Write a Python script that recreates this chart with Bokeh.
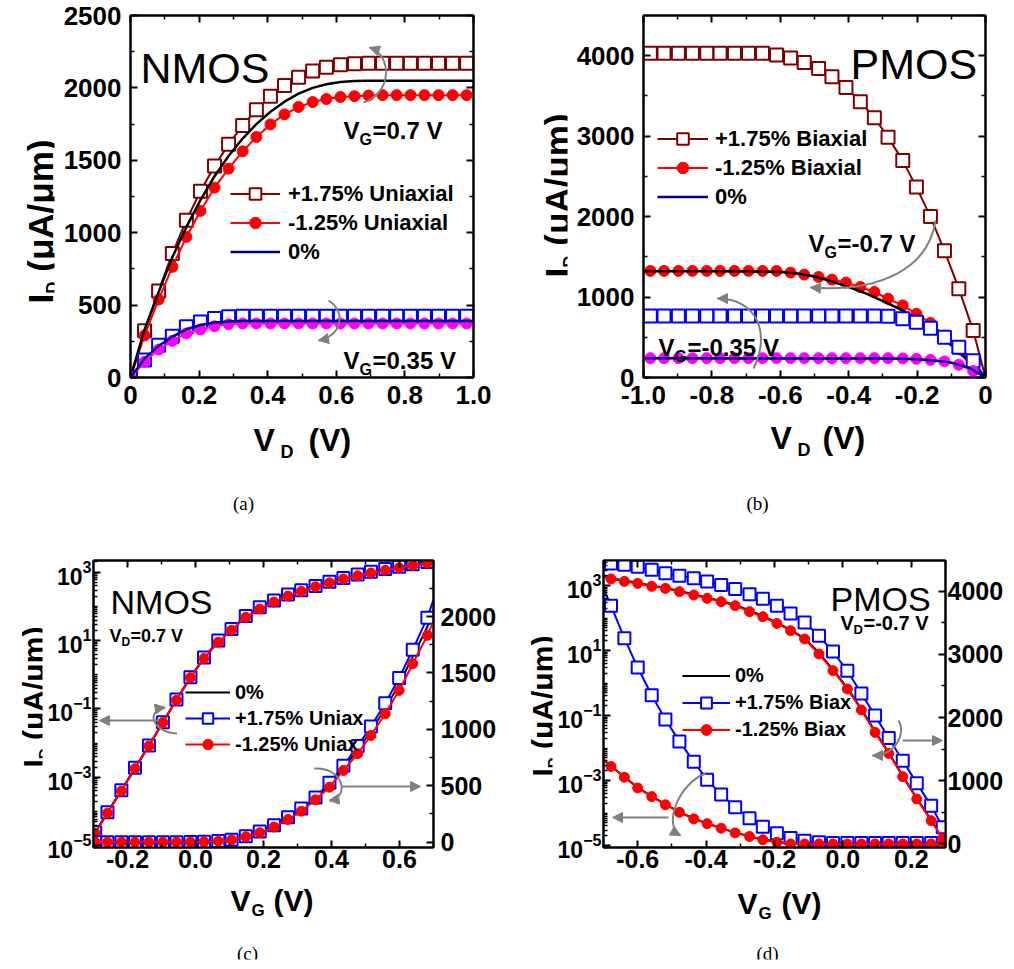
import math
from bokeh.plotting import figure
from bokeh.models import (Range1d, LinearAxis, LinearScale, FixedTicker, LogTickFormatter, Label,
                          Legend, LegendItem, Arrow, NormalHead)
from bokeh.layouts import row, column
from bokeh.embed import file_html
from bokeh.resources import INLINE

# ======================= DATA =======================
# (a) NMOS output characteristics, I_D (uA/um) vs V_D (V); last point = frame edge (line only)
a_vd = [0, 0.041, 0.082, 0.122, 0.163, 0.204, 0.245, 0.286, 0.327, 0.367, 0.408, 0.449, 0.490,
        0.531, 0.571, 0.612, 0.653, 0.694, 0.735, 0.776, 0.816, 0.857, 0.898, 0.939, 0.980, 1.0]
a_vg07_p175 = [0, 322, 598, 856, 1086, 1286, 1460, 1610, 1741, 1849, 1943, 2017, 2074, 2116, 2143,
               2160, 2166, 2170, 2170, 2170, 2170, 2170, 2170, 2170, 2170, 2170]
a_vg07_m125 = [0, 290, 538, 764, 971, 1150, 1311, 1442, 1562, 1661, 1748, 1817, 1868, 1902, 1923,
               1937, 1943, 1947, 1950, 1950, 1950, 1950, 1950, 1950, 1950, 1950]
a_vg07_0 = [0, 330, 590, 830, 1040, 1225, 1390, 1530, 1650, 1750, 1835, 1905, 1960, 2000, 2025,
            2040, 2047, 2050, 2050, 2050, 2050, 2050, 2050, 2050, 2050, 2050]
a_vg035_p175 = [0, 120, 223, 285, 350, 384, 407, 419, 423, 423, 423, 423, 423, 423, 423, 423, 423,
                423, 423, 423, 423, 423, 423, 423, 423, 423]
a_vg035_m125 = [0, 108, 193, 253, 304, 331, 354, 368, 373, 373, 373, 373, 373, 373, 373, 373, 373,
                373, 373, 373, 373, 373, 373, 373, 373, 373]
a_vg035_0 = [0, 130, 218, 283, 333, 363, 380, 387, 390, 390, 390, 390, 390, 390, 390, 390, 390,
             390, 390, 390, 390, 390, 390, 390, 390, 390]

# (b) PMOS output characteristics; first point = frame edge, last = origin (line only)
b_vd = [-1.0, -0.98, -0.94, -0.898, -0.857, -0.815, -0.776, -0.734, -0.693, -0.652, -0.611, -0.570,
        -0.530, -0.488, -0.449, -0.408, -0.366, -0.325, -0.285, -0.242, -0.202, -0.161, -0.120,
        -0.078, -0.036, 0.0]
b_vg07_p175 = [4030, 4030, 4030, 4030, 4030, 4030, 4030, 4030, 4030, 4030, 4010, 3971, 3917, 3842,
               3738, 3604, 3429, 3229, 2988, 2696, 2367, 2000, 1575, 1104, 583, 0]
b_vg07_m125 = [1325, 1325, 1325, 1325, 1325, 1325, 1325, 1325, 1325, 1325, 1325, 1304, 1279, 1250,
               1217, 1179, 1125, 1063, 979, 896, 792, 679, 520, 350, 165, 0]
b_vg035_p175 = [765, 765, 765, 765, 765, 765, 765, 765, 765, 765, 765, 765, 765, 765, 765, 765, 765,
                765, 762, 729, 688, 613, 500, 375, 208, 0]
b_vg035_m125 = [240, 240, 240, 240, 240, 240, 240, 240, 240, 240, 240, 240, 240, 240, 240, 240, 240,
                240, 240, 237, 232, 220, 200, 158, 80, 0]
b_vd0_hi = [-1.0, -0.9, -0.8, -0.7, -0.6, -0.55, -0.5, -0.45, -0.4, -0.35, -0.3, -0.25, -0.2, -0.15,
            -0.1, -0.05, 0.0]
b_vg07_0 = [1320, 1320, 1320, 1318, 1310, 1292, 1255, 1195, 1125, 1045, 950, 850, 725, 575, 400, 205, 0]
b_vd0_lo = [-1.0, -0.3, -0.25, -0.2, -0.15, -0.1, -0.05, 0.0]
b_vg035_0 = [238, 237, 234, 226, 212, 185, 125, 0]

# (c) NMOS transfer, V_D = 0.7 V; last point = frame edge (line only)
c_vg = [-0.295, -0.259, -0.218, -0.178, -0.137, -0.096, -0.056, -0.015, 0.025, 0.067, 0.106, 0.148,
        0.189, 0.231, 0.272, 0.311, 0.353, 0.394, 0.435, 0.477, 0.516, 0.558, 0.599, 0.639, 0.682, 0.7]
c_p175 = [2.5e-5, 9.5e-5, 4.2e-4, 1.9e-3, 8.5e-3, 4.1e-2, 0.19, 0.85, 3.2, 10, 22, 52, 95, 150, 222,
          298, 396, 527, 678, 852, 1025, 1232, 1455, 1706, 1990, 2150]
c_m125 = [2.3e-5, 9.0e-5, 4.0e-4, 1.8e-3, 8.2e-3, 4.0e-2, 0.18, 0.82, 3.0, 9, 20, 48, 84, 134, 201,
          275, 376, 488, 636, 784, 946, 1138, 1345, 1582, 1833, 1965]
c_0 = [2.4e-5, 9.2e-5, 4.1e-4, 1.85e-3, 8.4e-3, 4.05e-2, 0.185, 0.83, 3.1, 9.5, 21, 50, 90, 142, 211,
       286, 386, 507, 657, 818, 985, 1185, 1400, 1645, 1910, 2060]

# (d) PMOS transfer, V_D = -0.7 V; first and last points = frame edges (line only)
d_vg = [-0.7, -0.678, -0.639, -0.600, -0.559, -0.519, -0.478, -0.436, -0.397, -0.356, -0.315, -0.273,
        -0.234, -0.193, -0.153, -0.112, -0.070, -0.029, 0.013, 0.054, 0.094, 0.134, 0.175, 0.216,
        0.258, 0.292, 0.3]
d_log_p175 = [800, 240, 24, 3.0, 0.42, 0.076, 0.016, 3.8e-3, 1.05e-3, 3.7e-4, 1.5e-4, 6.9e-5, 3.8e-5,
              2.4e-5, 1.7e-5, 1.4e-5, 1.26e-5, 1.2e-5, 1.2e-5, 1.2e-5, 1.2e-5, 1.2e-5, 1.2e-5, 1.2e-5,
              1.2e-5, 1.2e-5, 1.2e-5]
d_log_m125 = [4.2e-3, 2.7e-3, 1.26e-3, 5.9e-4, 3.2e-4, 1.8e-4, 1.05e-4, 6.6e-5, 4.7e-5, 3.4e-5,
              2.45e-5, 1.9e-5, 1.5e-5, 1.26e-5, 1.12e-5, 1.12e-5, 1.12e-5, 1.12e-5, 1.12e-5, 1.12e-5,
              1.12e-5, 1.12e-5, 1.12e-5, 1.12e-5, 1.12e-5, 1.12e-5, 1.12e-5]
d_log_0 = [4.4e-3, 2.8e-3, 1.3e-3, 6.1e-4, 3.3e-4, 1.85e-4, 1.08e-4, 6.8e-5, 4.8e-5, 3.5e-5, 2.5e-5,
           1.95e-5, 1.55e-5, 1.3e-5, 1.15e-5, 1.15e-5, 1.15e-5, 1.15e-5, 1.15e-5, 1.15e-5, 1.15e-5,
           1.15e-5, 1.15e-5, 1.15e-5, 1.15e-5, 1.15e-5, 1.15e-5]
d_lin_p175 = [4480, 4440, 4420, 4390, 4340, 4285, 4245, 4205, 4155, 4100, 4035, 3955, 3880, 3770, 3650,
              3505, 3295, 3045, 2740, 2380, 2030, 1675, 1315, 960, 600, 260, 170]
d_lin_m125 = [4220, 4195, 4157, 4125, 4078, 4046, 3994, 3941, 3888, 3835, 3772, 3677, 3597, 3491, 3376,
              3244, 3006, 2742, 2452, 2119, 1764, 1431, 1062, 708, 365, 80, 20]
d_lin_0 = [4230, 4205, 4170, 4135, 4090, 4055, 4005, 3955, 3900, 3845, 3785, 3695, 3610, 3505, 3390,
           3255, 3025, 2760, 2470, 2135, 1780, 1445, 1075, 720, 378, 90, 25]

# tick labels
a_xticks = [0, 0.2, 0.4, 0.6, 0.8, 1.0]
a_xlabels = ["0", "0.2", "0.4", "0.6", "0.8", "1.0"]
b_xticks = [-1.0, -0.8, -0.6, -0.4, -0.2, 0]
b_xlabels = ["-1.0", "-0.8", "-0.6", "-0.4", "-0.2", "0"]
c_xticks = [-0.2, 0, 0.2, 0.4, 0.6]
c_xlabels = ["-0.2", "0.0", "0.2", "0.4", "0.6"]
d_xticks = [-0.6, -0.4, -0.2, 0, 0.2]
d_xlabels = ["-0.6", "-0.4", "-0.2", "0.0", "0.2"]

# ======================= STYLE / LAYOUT =======================
FONT = "Liberation Sans"
GRAY = "#808080"
MAROON, RED, BLUE, MAGENTA, NAVY = "#800000", "#FF0000", "#0000FF", "#FF00FF", "#000080"

# plot frames in page pixels: (left, right, top, bottom)
FA = (130, 473, 15, 377)
FB_ = (643, 985, 15, 377)
FC = (91, 433, 560, 847)
FD = (603, 945, 560, 847)

A_XR, A_YR = (0, 1.0), (0, 2500)
B_XR, B_YR = (-1.0, 0), (0, 4500)
C_XR, C_YL, C_YR = (-0.3, 0.7), (8.9e-6, 2.2e3), (-47, 2497)
D_XR, D_YL, D_YR = (-0.7, 0.3), (8.7e-6, 5.9e3), (-60, 4488)
TB = 2  # inner border of the text-only figures


def no_align(p):
    try:
        p.frame_align = False
    except Exception:
        pass


def make_fig(ox, oy, W, H, fr, xr, yr, ylog=False):
    FL, FR, FT, FBm = fr
    p = figure(width=W, height=H, x_range=Range1d(*xr), y_range=Range1d(*yr),
               y_axis_type="log" if ylog else "linear", toolbar_location=None,
               output_backend="svg",
               min_border_left=FL - ox, min_border_right=ox + W - FR,
               min_border_top=FT - oy, min_border_bottom=oy + H - FBm)
    no_align(p)
    p.xgrid.visible = False
    p.ygrid.visible = False
    p.outline_line_color = "black"
    p.outline_line_width = 2
    p.background_fill_color = "white"
    p.border_fill_color = "white"
    return p


def text_fig(ox, oy, W, H):
    """A bare figure used only to hold axis titles / captions placed in page pixels."""
    p = figure(width=W, height=H, x_range=Range1d(0, W), y_range=Range1d(0, H),
               toolbar_location=None, output_backend="svg", min_border=TB,
               x_axis_location=None, y_axis_location=None)
    no_align(p)
    p.xgrid.visible = False
    p.ygrid.visible = False
    p.outline_line_color = None
    p.background_fill_color = "white"
    p.border_fill_color = "white"
    p._org = (ox, oy, H)
    return p


def style_axis(ax, ticker, size=26, standoff=8, show=True, overrides=None, formatter=None):
    ax.ticker = ticker
    if formatter is not None:
        ax.formatter = formatter
    ax.axis_line_width = 2
    ax.axis_line_color = "black"
    ax.major_tick_in = 7
    ax.major_tick_out = 0
    ax.minor_tick_in = 4
    ax.minor_tick_out = 0
    ax.major_tick_line_width = 2
    ax.minor_tick_line_width = 1.5
    ax.axis_label = None
    if show:
        ax.major_label_text_font = FONT
        ax.major_label_text_font_style = "bold"
        ax.major_label_text_font_size = f"{size}px"
        ax.major_label_standoff = standoff
        ax.major_label_text_color = "black"
        if overrides:
            ax.major_label_overrides = overrides
    else:
        ax.major_label_text_font_size = "1px"
        ax.major_label_text_color = None
        ax.major_label_standoff = 0


def mirror_axes(p, xt, yt=None):
    top = LinearAxis()
    style_axis(top, xt, show=False)
    p.add_layout(top, "above")
    if yt is not None:
        right = LinearAxis()
        style_axis(right, yt, show=False)
        p.add_layout(right, "right")


def label(p, fr, px, py, text, size, style="bold"):
    """Text inside a plot frame, given in page pixels."""
    p.add_layout(Label(x=px - fr[0], y=fr[3] - py, x_units="screen", y_units="screen", text=text,
                       text_font=FONT, text_font_size=f"{size}px", text_font_style=style,
                       text_align="left", text_baseline="alphabetic", text_color="black"))


def tlabel(p, px, py, text, size, style="bold", angle=0.0, align="left", baseline="alphabetic",
           font=FONT):
    """Text in a bare text figure, given in page pixels."""
    ox, oy, H = p._org
    p.add_layout(Label(x=px - ox - TB, y=oy + H - TB - py, x_units="screen", y_units="screen",
                       text=text, text_font=font, text_font_size=f"{size}px",
                       text_font_style=style, angle=angle, text_align=align,
                       text_baseline=baseline, text_color="black"))


WB = {'I': .278, 'D': .722, ' ': .278, '(': .333, ')': .333, 'μ': .611, 'A': .722, '/': .278, 'm': .889}


def tw(s, size):
    return sum(WB[c] for c in s) * size


def ylabel(p, bx, by, size, sub, sub_dx):
    """Rotated 'I_D (μA/μm)' reading bottom-to-top; bx = baseline x, by = bottom end."""
    y = by
    tlabel(p, bx, y, "I", size, angle=math.pi / 2)
    y -= tw("I", size)
    tlabel(p, bx + sub_dx, y, "D", sub, angle=math.pi / 2)
    y -= tw("D", sub) + tw(" ", size)
    tlabel(p, bx, y, "(μA/μm)", size, angle=math.pi / 2)


def parts(p, fr, items):
    for t, x, y, sz in items:
        label(p, fr, x, y, t, sz)


def tparts(p, items):
    for t, x, y, sz in items:
        tlabel(p, x, y, t, sz)


def to_data(fr, xr, yr, px, py):
    FL, FR, FT, FBm = fr
    return (xr[0] + (px - FL) / (FR - FL) * (xr[1] - xr[0]),
            yr[0] + (FBm - py) / (FBm - FT) * (yr[1] - yr[0]))


def head(p, start, end, yname):
    p.add_layout(Arrow(end=NormalHead(size=10, fill_color=GRAY, line_color=GRAY, line_width=1),
                       x_start=start[0], y_start=start[1], x_end=end[0], y_end=end[1],
                       line_color=GRAY, line_width=2, y_range_name=yname))


def curved_arrow(p, fr, xr, yr, S, C1, C2, E, yname="default"):
    pts = [to_data(fr, xr, yr, *q) for q in (S, C1, C2, E)]
    p.bezier(x0=[pts[0][0]], y0=[pts[0][1]], cx0=[pts[1][0]], cy0=[pts[1][1]],
             cx1=[pts[2][0]], cy1=[pts[2][1]], x1=[pts[3][0]], y1=[pts[3][1]],
             line_color=GRAY, line_width=2, y_range_name=yname)
    dx, dy = E[0] - C2[0], E[1] - C2[1]
    L = math.hypot(dx, dy)
    tail = to_data(fr, xr, yr, E[0] - dx / L * 4, E[1] - dy / L * 4)
    head(p, tail, pts[3], yname)


def straight_arrow(p, fr, xr, yr, S, E, yname="default"):
    head(p, to_data(fr, xr, yr, *S), to_data(fr, xr, yr, *E), yname)


def add_legend(p, items, loc, gw, gh, standoff, size):
    leg = Legend(items=[LegendItem(label=l, renderers=r) for l, r in items], location=loc,
                 orientation="vertical", glyph_width=gw, glyph_height=gh, label_height=gh,
                 spacing=0, label_standoff=standoff, padding=0, margin=0,
                 border_line_color=None, background_fill_alpha=0,
                 label_text_font=FONT, label_text_font_style="bold",
                 label_text_font_size=f"{size}px", label_text_color="black")
    p.add_layout(leg)


def series(p, x, y, color, marker, msize, yname="default", mslice=slice(None)):
    ln = p.line(x, y, line_color=color, line_width=2, y_range_name=yname)
    xs, ys = x[mslice], y[mslice]
    if marker == "square":
        sc = p.scatter(xs, ys, marker="square", size=msize, line_color=color, line_width=2,
                       fill_color="white", y_range_name=yname)
    else:
        sc = p.scatter(xs, ys, marker="circle", size=msize, line_color=color, line_width=1,
                       fill_color=color, y_range_name=yname)
    return ln, sc


def log_minor():
    m = []
    for e in range(-6, 4):
        for k in range(1, 10):
            if k == 1 and e % 2 == 1:
                continue
            m.append(k * 10.0 ** e)
    return m


# ======================= PANEL (a) =======================
ya = text_fig(0, 0, 56, 533)
pa = make_fig(56, 0, 452, 416, FA, A_XR, A_YR)
xa = text_fig(56, 416, 452, 117)
axt = FixedTicker(ticks=a_xticks, minor_ticks=[0.1, 0.3, 0.5, 0.7, 0.9])
ayt = FixedTicker(ticks=[0, 500, 1000, 1500, 2000, 2500], minor_ticks=[250, 750, 1250, 1750, 2250])
style_axis(pa.xaxis[0], axt, 26, 8, overrides=dict(zip(a_xticks, a_xlabels)))
style_axis(pa.yaxis[0], ayt, 26, 9)
mirror_axes(pa, axt, ayt)

ms = slice(0, -1)
a1 = series(pa, a_vd, a_vg07_p175, MAROON, "square", 13, mslice=ms)
a2 = series(pa, a_vd, a_vg07_m125, RED, "circle", 11, mslice=ms)
pa.line(a_vd, a_vg07_0, line_color="black", line_width=2.5)
series(pa, a_vd, a_vg035_p175, BLUE, "square", 13, mslice=ms)
series(pa, a_vd, a_vg035_m125, MAGENTA, "circle", 11, mslice=ms)
a6 = pa.line(a_vd, a_vg035_0, line_color=NAVY, line_width=2.5)
add_legend(pa, [("+1.75% Uniaxial", list(a1)), ("-1.25% Uniaxial", list(a2)), ("0%", [a6])],
           (100, 111), 50, 29, 8, 22)

label(pa, FA, 140, 67, "NMOS", 43, style="normal")
parts(pa, FA, [("V", 343, 130, 24), ("G", 359, 139, 16), ("=0.7 V", 372, 130, 24)])
parts(pa, FA, [("V", 343, 360, 24), ("G", 359, 369, 16), ("=0.35 V", 372, 360, 24)])
curved_arrow(pa, FA, A_XR, A_YR, (363, 102), (392, 92), (392, 55), (369, 47))
curved_arrow(pa, FA, A_XR, A_YR, (328, 300), (345, 310), (343, 335), (318, 340))
ylabel(ya, 40, 303, 35, 17, 12)
tparts(xa, [("V", 253, 439, 32), ("D", 280, 451, 18), ("(V)", 308, 439, 32)])
tlabel(xa, 243, 503, "(a)", 19, style="normal", align="center", baseline="middle",
       font="Liberation Serif")

# ======================= PANEL (b) =======================
yb = text_fig(508, 0, 61, 533)
pb = make_fig(569, 0, 437, 416, FB_, B_XR, B_YR)
xb = text_fig(569, 416, 437, 117)
bxt = FixedTicker(ticks=b_xticks, minor_ticks=[-0.9, -0.7, -0.5, -0.3, -0.1])
byt = FixedTicker(ticks=[0, 1000, 2000, 3000, 4000], minor_ticks=[500, 1500, 2500, 3500, 4500])
style_axis(pb.xaxis[0], bxt, 26, 8, overrides=dict(zip(b_xticks, b_xlabels)))
style_axis(pb.yaxis[0], byt, 26, 9)
mirror_axes(pb, bxt, byt)

ms = slice(1, -1)
b1 = series(pb, b_vd, b_vg07_p175, MAROON, "square", 13, mslice=ms)
b2 = series(pb, b_vd, b_vg07_m125, RED, "circle", 11, mslice=ms)
pb.line(b_vd0_hi, b_vg07_0, line_color="black", line_width=2.5)
series(pb, b_vd, b_vg035_p175, BLUE, "square", 13, mslice=ms)
series(pb, b_vd, b_vg035_m125, MAGENTA, "circle", 11, mslice=ms)
b6 = pb.line(b_vd0_lo, b_vg035_0, line_color=NAVY, line_width=2.5)
add_legend(pb, [("+1.75% Biaxial", list(b1)), ("-1.25% Biaxial", list(b2)), ("0%", [b6])],
           (14, 166), 51, 29, 7, 22)

label(pb, FB_, 850, 63, "PMOS", 43, style="normal")
parts(pb, FB_, [("V", 808, 243, 24), ("G", 824, 252, 16), ("=-0.7 V", 837, 243, 24)])
parts(pb, FB_, [("V", 658, 347, 24), ("G", 674, 356, 16), ("=-0.35 V", 687, 347, 24)])
curved_arrow(pb, FB_, B_XR, B_YR, (935, 220), (928, 268), (880, 292), (810, 287))
curved_arrow(pb, FB_, B_XR, B_YR, (753, 368), (770, 335), (758, 298), (717, 298))
ylabel(yb, 557, 277, 35, 17, 12)
tparts(xb, [("V", 770, 437, 32), ("D", 797, 449, 18), ("(V)", 822, 437, 32)])
tlabel(xb, 757, 503, "(b)", 19, style="normal", align="center", baseline="middle",
       font="Liberation Serif")

# ======================= PANEL (c) =======================
yc = text_fig(0, 533, 44, 428)
pc = make_fig(44, 533, 464, 345, FC, C_XR, C_YL, ylog=True)
xc = text_fig(44, 878, 464, 83)
pc.extra_y_ranges = {"right": Range1d(*C_YR)}
pc.extra_y_scales = {"right": LinearScale()}
cxt = FixedTicker(ticks=c_xticks, minor_ticks=[-0.3, -0.1, 0.1, 0.3, 0.5, 0.7])
clt = FixedTicker(ticks=[1e-5, 1e-3, 1e-1, 1e1, 1e3], minor_ticks=log_minor())
crt = FixedTicker(ticks=[0, 500, 1000, 1500, 2000], minor_ticks=[250, 750, 1250, 1750, 2250])
style_axis(pc.xaxis[0], cxt, 25, 2, overrides=dict(zip(c_xticks, c_xlabels)))
style_axis(pc.yaxis[0], clt, 23, 2, formatter=LogTickFormatter())
rax = LinearAxis(y_range_name="right")
style_axis(rax, crt, 25, 7)
pc.add_layout(rax, "right")
mirror_axes(pc, cxt)

ms = slice(0, -1)
for yn in ("default", "right"):
    c0 = pc.line(c_vg, c_0, line_color="black", line_width=2, y_range_name=yn)
    c1 = series(pc, c_vg, c_p175, BLUE, "square", 12, yname=yn, mslice=ms)
    c2 = series(pc, c_vg, c_m125, RED, "circle", 10, yname=yn, mslice=ms)
    if yn == "default":
        leg_c = [("0%", [c0]), ("+1.75% Uniax", list(c1)), ("-1.25% Uniax", list(c2))]
add_legend(pc, leg_c, (92, 90), 45, 26, 5, 20)

label(pc, FC, 108, 601, "NMOS", 34, style="normal")
parts(pc, FC, [("V", 107, 635, 18), ("D", 119, 641, 12), ("=0.7 V", 128, 635, 18)])
straight_arrow(pc, FC, C_XR, C_YR, (157, 720), (97, 720), "right")
curved_arrow(pc, FC, C_XR, C_YR, (175, 733), (150, 732), (143, 710), (163, 707), "right")
straight_arrow(pc, FC, C_XR, C_YR, (340, 786), (420, 786), "right")
curved_arrow(pc, FC, C_XR, C_YR, (313, 768), (342, 766), (350, 797), (328, 800), "right")
ylabel(yc, 33, 767, 30, 15, 10)
tparts(xc, [("V", 230, 900, 30), ("G", 251, 910, 17), ("(V)", 273, 900, 30)])
tlabel(xc, 247, 953, "(c)", 19, style="normal", align="center", baseline="middle",
       font="Liberation Serif")

# ======================= PANEL (d) =======================
yd = text_fig(508, 533, 46, 428)
pd = make_fig(554, 533, 452, 347, FD, D_XR, D_YL, ylog=True)
xd = text_fig(554, 880, 452, 81)
pd.extra_y_ranges = {"right": Range1d(*D_YR)}
pd.extra_y_scales = {"right": LinearScale()}
dxt = FixedTicker(ticks=d_xticks, minor_ticks=[-0.7, -0.5, -0.3, -0.1, 0.1, 0.3])
dlt = FixedTicker(ticks=[1e-5, 1e-3, 1e-1, 1e1, 1e3], minor_ticks=log_minor())
drt = FixedTicker(ticks=[0, 1000, 2000, 3000, 4000], minor_ticks=[500, 1500, 2500, 3500])
style_axis(pd.xaxis[0], dxt, 25, 2, overrides=dict(zip(d_xticks, d_xlabels)))
style_axis(pd.yaxis[0], dlt, 23, 2, formatter=LogTickFormatter())
rax2 = LinearAxis(y_range_name="right")
style_axis(rax2, drt, 25, 2)
pd.add_layout(rax2, "right")
mirror_axes(pd, dxt)

ms = slice(1, -1)
d0 = pd.line(d_vg, d_log_0, line_color="black", line_width=2)
pd.line(d_vg, d_lin_0, line_color="black", line_width=2, y_range_name="right")
d1 = series(pd, d_vg, d_log_p175, BLUE, "square", 12, mslice=ms)
series(pd, d_vg, d_lin_p175, BLUE, "square", 12, yname="right", mslice=ms)
d2 = series(pd, d_vg, d_log_m125, RED, "circle", 10, mslice=ms)
series(pd, d_vg, d_lin_m125, RED, "circle", 10, yname="right", mslice=ms)
add_legend(pd, [("0%", [d0]), ("+1.75% Biax", list(d1)), ("-1.25% Biax", list(d2))],
           (79, 104), 48, 27, 5, 20)

label(pd, FD, 830, 598, "PMOS", 34, style="normal")
parts(pd, FD, [("V", 840, 622, 20), ("D", 853, 629, 13), ("=-0.7 V", 863, 622, 20)])
curved_arrow(pd, FD, D_XR, D_YR, (705, 773), (678, 783), (662, 825), (680, 835), "right")
straight_arrow(pd, FD, D_XR, D_YR, (668, 817), (612, 817), "right")
curved_arrow(pd, FD, D_XR, D_YR, (898, 720), (906, 733), (895, 755), (872, 755), "right")
straight_arrow(pd, FD, D_XR, D_YR, (902, 740), (942, 740), "right")
ylabel(yd, 542, 776, 30, 15, 10)
tparts(xd, [("V", 737, 903, 30), ("G", 758, 913, 17), ("(V)", 781, 903, 30)])
tlabel(xd, 767, 953, "(d)", 19, style="normal", align="center", baseline="middle",
       font="Liberation Serif")

layout = column(
    row(ya, column(pa, xa), yb, column(pb, xb)),
    row(yc, column(pc, xc), yd, column(pd, xd)),
)
open("out.html", "w").write(file_html(layout, INLINE, "chart"))
